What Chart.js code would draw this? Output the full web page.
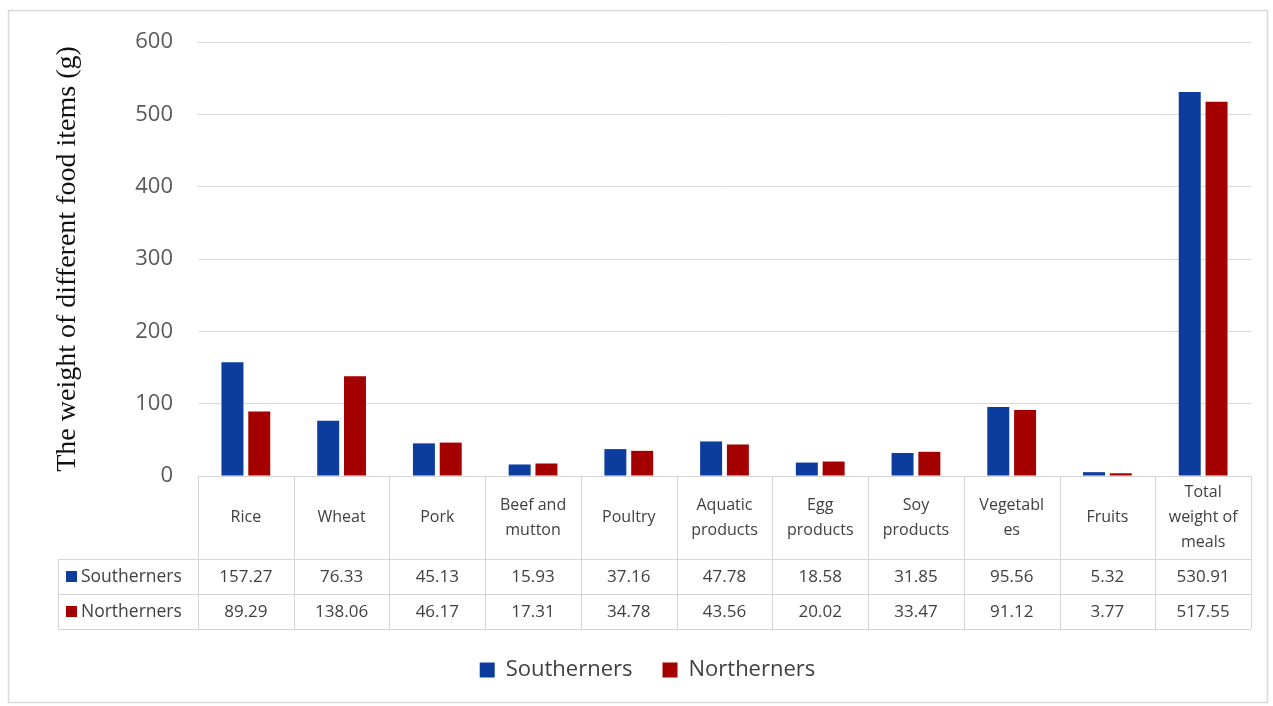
<!DOCTYPE html>
<html>
<head>
<meta charset="utf-8">
<script src="https://cdn.jsdelivr.net/npm/chart.js@4.4.1/dist/chart.umd.min.js"></script>
<style>
  html, body { margin: 0; padding: 0; background: #ffffff; }
  #wrap { width: 1273px; height: 706px; }
</style>
</head>
<body>
<div id="wrap"><canvas id="chart" width="1273" height="706"></canvas></div>
<script>
// Food categories (multi-line header labels for the data table)
const categories = [
  'Rice', 'Wheat', 'Pork', ['Beef and', 'mutton'], 'Poultry',
  ['Aquatic', 'products'], ['Egg', 'products'], ['Soy', 'products'],
  ['Vegetabl', 'es'], 'Fruits', ['Total', 'weight of', 'meals']
];
const seriesNames = ['Southerners', 'Northerners'];
const southerners = [157.27, 76.33, 45.13, 15.93, 37.16, 47.78, 18.58, 31.85, 95.56, 5.32, 530.91];
const northerners = [89.29, 138.06, 46.17, 17.31, 34.78, 43.56, 20.02, 33.47, 91.12, 3.77, 517.55];
const yAxisTitle = 'The weight of different food items (g)';

const BLUE = '#0c3d9e';
const RED = '#a40000';
const TEXT = '#404040';
const LINE = '#d4d4d4';

// Row heights of the data table under the plot
const HEADER_H = 83;
const ROW_H = 35;
const LABEL_COL_LEFT = 58;

// White page with a thin frame around the whole figure
const framePlugin = {
  id: 'frame',
  beforeDraw(chart) {
    const ctx = chart.ctx;
    ctx.save();
    ctx.fillStyle = '#ffffff';
    ctx.fillRect(0, 0, chart.width, chart.height);
    ctx.strokeStyle = '#d9d9d9';
    ctx.lineWidth = 1.5;
    ctx.strokeRect(8.5, 10.5, chart.width - 14, chart.height - 14);
    ctx.restore();
  }
};

// Data table drawn under the category axis, aligned to the x scale
const tablePlugin = {
  id: 'dataTable',
  afterDraw(chart) {
    const ctx = chart.ctx;
    const x = chart.scales.x;
    const area = chart.chartArea;
    const top = area.bottom;
    const r1 = top + HEADER_H;
    const r2 = r1 + ROW_H;
    const r3 = r2 + ROW_H;
    const n = categories.length;
    const half = (x.getPixelForValue(1) - x.getPixelForValue(0)) / 2;

    ctx.save();
    ctx.strokeStyle = LINE;
    ctx.lineWidth = 1;
    const h = (y, x0, x1) => { ctx.beginPath(); ctx.moveTo(x0, Math.round(y) + 0.5); ctx.lineTo(x1, Math.round(y) + 0.5); ctx.stroke(); };
    const v = (xx, y0, y1) => { ctx.beginPath(); ctx.moveTo(Math.round(xx) + 0.5, y0); ctx.lineTo(Math.round(xx) + 0.5, y1); ctx.stroke(); };

    h(top, area.left, area.right);
    h(r1, LABEL_COL_LEFT, area.right);
    h(r2, LABEL_COL_LEFT, area.right);
    h(r3, LABEL_COL_LEFT, area.right);
    v(LABEL_COL_LEFT, r1, r3);
    v(area.left, top, r3);
    for (let i = 0; i < n; i++) {
      v(x.getPixelForValue(i) + half, top, r3);
    }

    ctx.fillStyle = TEXT;
    ctx.textAlign = 'center';
    ctx.textBaseline = 'middle';
    ctx.font = '16px "Open Sans"';
    const lh = 25;
    categories.forEach((c, i) => {
      const lines = Array.isArray(c) ? c : [c];
      const cx = x.getPixelForValue(i);
      const cy = top + HEADER_H / 2;
      lines.forEach((ln, k) => {
        ctx.fillText(ln, cx, cy + (k - (lines.length - 1) / 2) * lh);
      });
    });

    const rows = [southerners, northerners];
    const colors = [BLUE, RED];
    rows.forEach((vals, r) => {
      const cy = r1 + ROW_H * r + ROW_H / 2 + 0.5;
      ctx.font = '17px "Open Sans"';
      vals.forEach((val, i) => {
        ctx.fillStyle = TEXT;
        ctx.textAlign = 'center';
        ctx.fillText(val.toFixed(2), x.getPixelForValue(i), cy);
      });
      ctx.fillStyle = colors[r];
      ctx.fillRect(LABEL_COL_LEFT + 8, cy - 6, 11, 11);
      ctx.fillStyle = TEXT;
      ctx.textAlign = 'left';
      ctx.font = '17.5px "Open Sans"';
      ctx.fillText(seriesNames[r], LABEL_COL_LEFT + 23, cy);
    });
    ctx.restore();
  }
};

new Chart(document.getElementById('chart'), {
  type: 'bar',
  data: {
    labels: categories,
    datasets: [
      { label: seriesNames[0], data: southerners, backgroundColor: BLUE, borderColor: BLUE, borderWidth: 0 },
      { label: seriesNames[1], data: northerners, backgroundColor: RED, borderColor: RED, borderWidth: 0 }
    ]
  },
  options: {
    responsive: false,
    animation: false,
    events: [],
    layout: { padding: { left: 44, right: 22, top: 42, bottom: 15 } },
    datasets: { bar: { categoryPercentage: 0.56, barPercentage: 0.82 } },
    plugins: {
      tooltip: { enabled: false },
      legend: {
        position: 'bottom',
        labels: {
          font: { family: 'Open Sans', size: 22 },
          color: TEXT,
          boxWidth: 15,
          boxHeight: 15,
          padding: 30
        }
      }
    },
    scales: {
      x: {
        grid: { display: false },
        border: { display: false },
        ticks: { display: false },
        afterFit(scale) { scale.height = HEADER_H + ROW_H * 2; }
      },
      y: {
        min: 0,
        max: 600,
        ticks: {
          stepSize: 100,
          padding: 25,
          color: '#595959',
          font: { family: 'Open Sans', size: 22 }
        },
        grid: { color: '#d9d9d9', lineWidth: 1, drawTicks: false },
        border: { display: false },
        title: {
          display: true,
          text: yAxisTitle,
          color: '#111111',
          font: { family: 'Liberation Serif', size: 28 },
          padding: { top: 7, bottom: 0 }
        },
        afterFit(scale) { scale.width = 154; }
      }
    }
  },
  plugins: [framePlugin, tablePlugin]
});
</script>
</body>
</html>
